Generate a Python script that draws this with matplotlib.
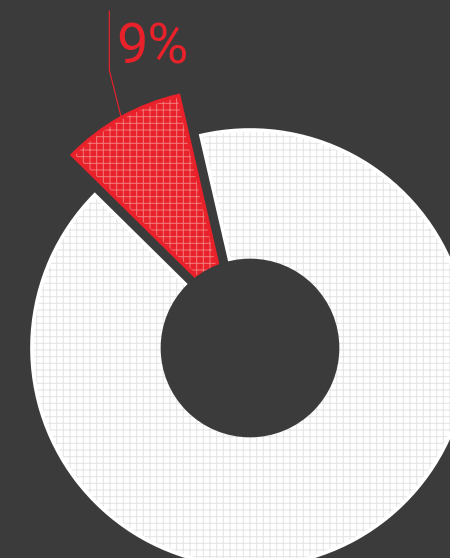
import numpy as np
import matplotlib
matplotlib.use('Agg')
import matplotlib.pyplot as plt

# share of the ring
labels = ['9%', '']
values = [9, 91]
colors = ['#e8212a', '#ffffff']
hatch_colors = ['#f27a7a', '#e4e4e4']

bg = '#3b3b3b'
start = 103
explode = [0.21, 0]
hole = 0.406

plt.rcParams['hatch.linewidth'] = 0.6

fig = plt.figure(figsize=(3.75, 4.65), dpi=120, facecolor=bg)
ax = fig.add_axes([0, 0, 1, 1])
ax.set_facecolor(bg)

# fill, then hatch overlay, then outline
wedges, _ = ax.pie(values, colors=colors, startangle=start, explode=explode,
                   wedgeprops=dict(linewidth=0))
hw, _ = ax.pie(values, colors=colors, startangle=start, explode=explode,
               wedgeprops=dict(linewidth=0))
for w, hc in zip(hw, hatch_colors):
    w.set_facecolor('none')
    w.set_edgecolor(hc)
    w.set_hatch('+++')
ow, _ = ax.pie(values, colors=colors, startangle=start, explode=explode,
               wedgeprops=dict(linewidth=2.2))
for w, c in zip(ow, colors):
    w.set_facecolor('none')
    w.set_edgecolor(c)

ax.add_patch(plt.Circle((0, 0), hole, color=bg, zorder=5))

# label with leader line
mid = np.deg2rad(start + values[0] / sum(values) * 360 / 2)
r = 1 + explode[0]
ax0, ay0 = r * np.cos(mid), r * np.sin(mid)
ex, ey = ax0 - 0.055, 1.275
ax.plot([ax0, ex, ex], [ay0, ey, 1.545], color=colors[0], lw=0.7, zorder=6)
ax.text(-0.612, 1.307, labels[0], color=colors[0], fontsize=33.5,
        family=['Roboto', 'DejaVu Sans'], fontweight='normal', va='baseline', ha='left')

ax.set_aspect('equal')
ax.set_xlim(-250 / 218, 200 / 218)
ax.set_ylim(-210 / 218, 348 / 218)
ax.axis('off')

fig.savefig('out.png', dpi=120, facecolor=bg)
